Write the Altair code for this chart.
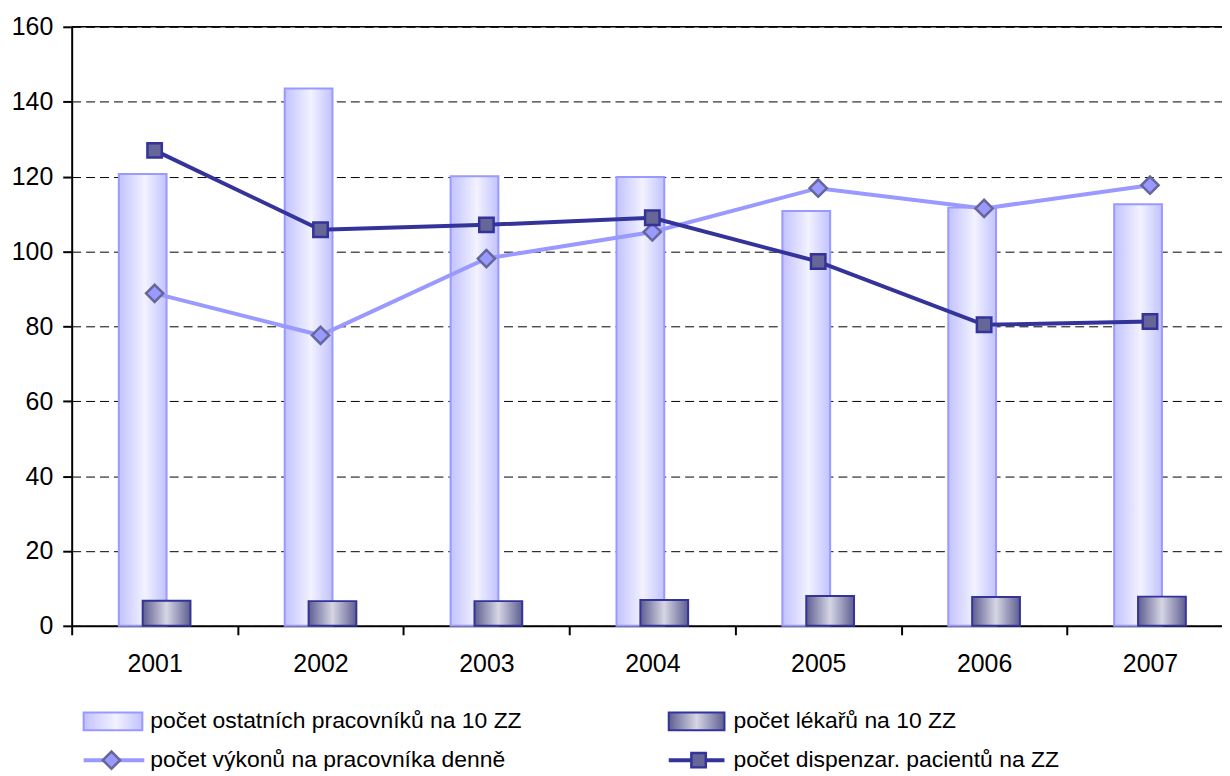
import altair as alt
import pandas as pd

years = ["2001", "2002", "2003", "2004", "2005", "2006", "2007"]
ostatni = [120.7, 143.5, 120.1, 119.9, 110.8, 111.7, 112.6]
lekari = [6.7, 6.6, 6.6, 6.9, 8.0, 7.7, 7.8]
vykony = [88.8, 77.6, 98.1, 105.2, 116.9, 111.5, 117.7]
dispenzar = [127.0, 105.8, 107.1, 109.0, 97.3, 80.4, 81.3]
y_ticks = [0, 20, 40, 60, 80, 100, 120, 140, 160]

names = [
    "počet ostatních pracovníků na 10 ZZ",
    "počet lékařů na 10 ZZ",
    "počet výkonů na pracovníka denně",
    "počet dispenzar. pacientů na ZZ",
]

df = pd.DataFrame({"year": years, "ostatni": ostatni, "lekari": lekari,
                   "vykony": vykony, "dispenzar": dispenzar})

FONT = "Liberation Sans"
FS = 23
AFS = 25

light_grad = alt.Gradient(
    gradient="linear", x1=0, x2=1, y1=0, y2=0,
    stops=[alt.GradientStop(color="#c2c2ff", offset=0),
           alt.GradientStop(color="#f2f2ff", offset=0.55),
           alt.GradientStop(color="#c2c2ff", offset=1)])
dark_grad = alt.Gradient(
    gradient="linear", x1=0, x2=1, y1=0, y2=0,
    stops=[alt.GradientStop(color="#5e5e92", offset=0),
           alt.GradientStop(color="#d6d6e4", offset=0.5),
           alt.GradientStop(color="#5e5e92", offset=1)])

x_enc = alt.X("year:N", title=None, sort=years,
              scale=alt.Scale(paddingInner=0, paddingOuter=0),
              axis=alt.Axis(labelFont=FONT, labelFontSize=AFS, labelColor="black",
                            labelAngle=0, tickBand="extent", tickSize=9, tickWidth=2,
                            tickColor="black", domainColor="black", domainWidth=2,
                            labelPadding=17, grid=False))
y_scale = alt.Scale(domain=[0, 160], nice=False)
y_axis = alt.Axis(values=y_ticks, labelFont=FONT, labelFontSize=AFS, labelColor="black",
                  tickSize=9, tickWidth=2, tickColor="black", domainColor="black",
                  domainWidth=2, labelPadding=10, grid=True, gridColor="black",
                  gridDash=[9, 5], gridWidth=1, title=None)

base = alt.Chart(df)

bar_tall = base.mark_bar(fill=light_grad, stroke="#9999ff", strokeWidth=2,
                         size=48, xOffset=-12).encode(
    x=x_enc, y=alt.Y("ostatni:Q", scale=y_scale, axis=y_axis))
bar_small = base.mark_bar(fill=dark_grad, stroke="#333399", strokeWidth=2,
                          size=48, xOffset=12).encode(
    x=alt.X("year:N", sort=years), y=alt.Y("lekari:Q"))

top_rule = alt.Chart(pd.DataFrame({"v": [y_ticks[-1]]})).mark_rule(
    color="black", strokeWidth=1.5).encode(y="v:Q")

line_v = base.mark_line(color="#9999ff", strokeWidth=4).encode(
    x=alt.X("year:N", sort=years), y="vykony:Q")
pts_v = base.mark_point(shape="diamond", filled=True, fill="#9999ff", stroke="#666699",
                        strokeWidth=2.5, size=300, opacity=1).encode(
    x=alt.X("year:N", sort=years), y="vykony:Q")
line_d = base.mark_line(color="#333399", strokeWidth=4).encode(
    x=alt.X("year:N", sort=years), y="dispenzar:Q")
pts_d = base.mark_point(shape="square", filled=True, fill="#666699", stroke="#333399",
                        strokeWidth=2.5, size=210, opacity=1).encode(
    x=alt.X("year:N", sort=years), y="dispenzar:Q")

# legend (pixel positions relative to plot origin)
def ltext(name, x, y):
    return alt.Chart(pd.DataFrame({"t": [name]})).mark_text(
        font=FONT, fontSize=FS, align="left", baseline="middle", color="black").encode(
        x=alt.value(x), y=alt.value(y), text="t:N")

r1, r2 = 698, 737
leg_df = pd.DataFrame({"t": [0]})
leg1 = alt.Chart(leg_df).mark_rect(fill=light_grad, stroke="#9999ff", strokeWidth=2).encode(
    x=alt.value(12), x2=alt.value(71), y=alt.value(r1 - 9), y2=alt.value(r1 + 9))
leg2 = alt.Chart(leg_df).mark_rect(fill=dark_grad, stroke="#333399", strokeWidth=2).encode(
    x=alt.value(600), x2=alt.value(656), y=alt.value(r1 - 9), y2=alt.value(r1 + 9))
leg3l = alt.Chart(leg_df).mark_rule(color="#9999ff", strokeWidth=4).encode(
    x=alt.value(12), x2=alt.value(73), y=alt.value(r2))
leg3p = alt.Chart(leg_df).mark_point(shape="diamond", filled=True, fill="#9999ff",
                                     stroke="#666699", strokeWidth=2.5, size=300,
                                     opacity=1).encode(x=alt.value(40), y=alt.value(r2))
leg4l = alt.Chart(leg_df).mark_rule(color="#333399", strokeWidth=4).encode(
    x=alt.value(600), x2=alt.value(656), y=alt.value(r2))
leg4p = alt.Chart(leg_df).mark_point(shape="square", filled=True, fill="#666699",
                                     stroke="#333399", strokeWidth=2.5, size=210,
                                     opacity=1).encode(x=alt.value(630), y=alt.value(r2))

# the plot area runs a little past the right edge of the page (clipped)
chart = alt.layer(
    bar_tall, bar_small, top_rule, line_v, pts_v, line_d, pts_d,
    leg1, leg2, leg3l, leg3p, leg4l, leg4p,
    ltext(names[0], 79, r1), ltext(names[1], 665, r1),
    ltext(names[2], 79, r2), ltext(names[3], 665, r2),
).properties(
    width=1167, height=602,
    padding={"left": 64, "top": 17, "right": -11, "bottom": 144},
    autosize=alt.AutoSizeParams(type="none"),
    background="white",
).configure_view(stroke=None)

chart.save("out.html", embed_options={"renderer": "svg", "actions": False})
